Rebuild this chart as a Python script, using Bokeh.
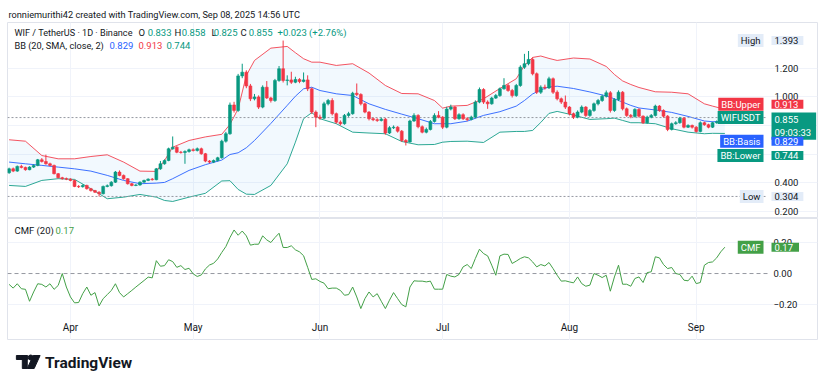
import pandas as pd
from bokeh.plotting import figure
from bokeh.layouts import column
from bokeh.models import (Range1d, FixedTicker, MonthsTicker, DatetimeTickFormatter,
                          NumeralTickFormatter, Label, Grid, ColumnDataSource, Title)
from bokeh.embed import file_html
from bokeh.resources import INLINE

# ---------------- data ----------------
start_date = "2025-03-17"

open_ = [0.470,0.497,0.481,0.514,0.507,0.491,0.509,0.521,0.560,0.548,
 0.532,0.521,0.463,0.435,0.428,0.425,0.416,0.374,0.372,0.381,
 0.358,0.345,0.334,0.323,0.374,0.379,0.404,0.474,0.451,0.428,
 0.393,0.381,0.384,0.404,0.416,0.425,0.421,0.497,0.532,0.555,
 0.637,0.648,0.613,0.611,0.618,0.630,0.625,0.637,0.602,0.551,
 0.544,0.555,0.574,0.690,0.742,0.943,0.905,1.146,1.172,1.076,
 0.986,0.999,0.928,1.067,0.992,0.974,1.114,1.196,1.114,1.118,
 1.102,1.121,1.107,1.118,1.056,0.893,0.858,0.851,0.951,0.974,
 0.882,0.823,0.812,0.870,0.882,1.025,1.016,0.951,0.893,0.847,
 0.840,0.835,0.844,0.747,0.784,0.788,0.760,0.695,0.685,0.831,
 0.870,0.791,0.753,0.772,0.828,0.870,0.858,0.788,0.914,0.928,
 0.847,0.875,0.847,0.842,0.858,0.963,1.051,0.963,0.951,0.991,
 1.009,1.056,1.079,1.044,1.009,1.079,1.207,1.231,1.261,1.161,
 1.032,1.067,1.062,1.126,1.032,0.986,0.963,0.928,0.882,0.858,
 0.893,0.928,0.870,0.905,0.951,0.974,1.004,1.028,0.905,0.981,
 1.032,0.916,0.870,0.863,0.912,0.865,0.819,0.858,0.870,0.935,
 0.905,0.865,0.772,0.812,0.819,0.851,0.788,0.800,0.788,0.758,
 0.819,0.805,0.788,0.819,0.826,0.833]

close_ = [0.497,0.481,0.514,0.507,0.491,0.509,0.521,0.560,0.548,0.532,
 0.521,0.463,0.435,0.428,0.425,0.416,0.374,0.372,0.381,0.358,
 0.345,0.334,0.323,0.374,0.379,0.404,0.474,0.451,0.428,0.393,
 0.381,0.384,0.404,0.416,0.425,0.421,0.497,0.532,0.555,0.637,
 0.648,0.613,0.611,0.618,0.630,0.625,0.637,0.602,0.551,0.544,
 0.555,0.574,0.690,0.742,0.943,0.905,1.146,1.172,1.076,0.986,
 0.999,0.928,1.067,0.992,0.974,1.114,1.196,1.114,1.118,1.102,
 1.121,1.107,1.118,1.056,0.893,0.858,0.851,0.951,0.974,0.882,
 0.823,0.812,0.870,0.882,1.025,1.016,0.951,0.893,0.847,0.840,
 0.835,0.844,0.747,0.784,0.788,0.760,0.695,0.685,0.831,0.870,
 0.791,0.753,0.772,0.828,0.870,0.858,0.788,0.914,0.928,0.847,
 0.875,0.847,0.842,0.858,0.963,1.051,0.963,0.951,0.991,1.009,
 1.056,1.079,1.044,1.009,1.079,1.207,1.231,1.261,1.161,1.032,
 1.067,1.062,1.126,1.032,0.986,0.963,0.928,0.882,0.858,0.893,
 0.928,0.870,0.905,0.951,0.974,1.004,1.028,0.905,0.981,1.032,
 0.916,0.870,0.863,0.912,0.865,0.819,0.858,0.870,0.935,0.905,
 0.865,0.772,0.812,0.819,0.851,0.788,0.800,0.788,0.758,0.819,
 0.805,0.788,0.819,0.826,0.833,0.855]

high_ = [0.505,0.506,0.520,0.525,0.512,0.515,0.528,0.566,0.572,0.596,
 0.540,0.526,0.468,0.441,0.436,0.431,0.421,0.383,0.388,0.386,
 0.364,0.350,0.340,0.380,0.388,0.410,0.482,0.486,0.457,0.432,
 0.398,0.390,0.409,0.421,0.430,0.433,0.503,0.552,0.563,0.645,
 0.723,0.655,0.622,0.626,0.638,0.640,0.646,0.645,0.608,0.558,
 0.562,0.581,0.700,0.755,0.960,0.965,1.160,1.231,1.185,1.090,
 1.020,1.010,1.080,1.110,1.000,1.125,1.215,1.393,1.150,1.175,
 1.140,1.130,1.170,1.150,1.065,0.905,0.875,0.965,0.985,0.990,
 0.890,0.835,0.880,0.895,1.035,1.093,1.025,0.960,0.900,0.856,
 0.850,0.855,0.852,0.795,0.800,0.795,0.768,0.705,0.840,0.885,
 0.878,0.800,0.785,0.838,0.885,0.900,0.865,0.930,0.945,0.935,
 0.885,0.885,0.858,0.868,0.975,1.065,1.060,0.975,1.000,1.020,
 1.065,1.130,1.090,1.055,1.090,1.220,1.300,1.320,1.275,1.170,
 1.080,1.085,1.140,1.135,1.045,0.995,1.009,0.935,0.890,0.905,
 0.940,0.935,0.915,0.960,0.985,1.015,1.044,1.040,0.990,1.045,
 1.040,0.925,0.880,0.920,0.920,0.870,0.868,0.880,0.945,0.942,
 0.912,0.872,0.820,0.830,0.860,0.858,0.808,0.806,0.795,0.828,
 0.826,0.812,0.826,0.835,0.842,0.858]

low_ = [0.462,0.474,0.476,0.500,0.484,0.487,0.503,0.515,0.541,0.526,
 0.514,0.458,0.430,0.421,0.418,0.410,0.369,0.363,0.366,0.352,
 0.338,0.328,0.304,0.318,0.368,0.373,0.398,0.445,0.421,0.387,
 0.375,0.376,0.379,0.400,0.411,0.415,0.417,0.490,0.526,0.550,
 0.630,0.606,0.603,0.532,0.610,0.618,0.618,0.596,0.543,0.535,
 0.537,0.548,0.568,0.680,0.735,0.890,0.895,1.130,1.060,0.970,
 0.975,0.915,0.920,0.985,0.960,0.965,1.105,1.100,1.080,1.090,
 1.095,1.095,1.100,1.040,0.880,0.788,0.840,0.845,0.940,0.870,
 0.812,0.800,0.805,0.860,0.875,1.005,0.940,0.885,0.835,0.830,
 0.825,0.828,0.735,0.740,0.775,0.750,0.685,0.660,0.680,0.825,
 0.780,0.745,0.745,0.765,0.820,0.850,0.775,0.780,0.905,0.838,
 0.840,0.838,0.830,0.835,0.850,0.955,0.950,0.916,0.945,0.985,
 1.000,1.050,1.035,0.995,1.000,1.070,1.195,1.220,1.150,1.020,
 1.020,1.050,1.055,1.020,0.975,0.950,0.915,0.870,0.845,0.850,
 0.885,0.860,0.860,0.895,0.940,0.965,0.995,0.890,0.895,0.970,
 0.905,0.860,0.850,0.855,0.855,0.810,0.812,0.850,0.862,0.895,
 0.855,0.760,0.765,0.805,0.812,0.780,0.782,0.778,0.750,0.752,
 0.798,0.780,0.782,0.812,0.820,0.825]

cmf = [-0.070,-0.094,-0.066,-0.098,-0.102,-0.179,-0.119,-0.066,-0.070,-0.087,
 -0.066,-0.102,-0.077,0.000,-0.087,-0.151,-0.189,-0.187,-0.130,-0.087,
 -0.140,-0.123,-0.209,-0.162,-0.136,-0.109,-0.066,-0.123,-0.151,-0.130,
 -0.109,-0.087,-0.066,-0.045,-0.023,-0.028,0.083,0.047,0.051,0.089,
 0.077,0.040,0.051,0.026,0.034,-0.002,-0.019,-0.009,0.030,0.055,
 0.066,0.094,0.136,0.174,0.232,0.281,0.247,0.274,0.243,0.183,
 0.189,0.189,0.243,0.217,0.200,0.232,0.260,0.168,0.168,0.179,
 0.153,0.140,0.115,0.040,-0.038,-0.034,-0.051,-0.062,-0.098,-0.094,
 -0.094,-0.109,-0.140,-0.136,-0.087,-0.151,-0.226,-0.162,-0.119,-0.151,
 -0.130,-0.179,-0.226,-0.172,-0.123,-0.162,-0.200,-0.215,-0.087,-0.047,
 -0.049,-0.049,-0.054,-0.049,-0.101,-0.101,-0.101,-0.006,-0.017,-0.022,
 -0.006,0.043,0.058,0.032,0.097,0.157,0.129,0.114,0.054,-0.011,
 0.114,0.125,0.123,0.065,0.080,0.097,0.108,0.101,0.075,0.043,
 0.058,0.049,0.071,0.032,-0.011,-0.049,-0.047,-0.054,-0.060,-0.022,
 -0.065,-0.082,-0.075,0.000,-0.011,-0.026,-0.011,-0.114,-0.022,0.054,
 -0.069,-0.069,-0.082,-0.032,-0.022,-0.058,0.006,0.011,0.108,0.101,
 0.058,0.032,0.039,0.000,-0.006,-0.043,-0.047,-0.017,-0.065,-0.058,
 0.054,0.071,0.075,0.101,0.140,0.170]

bb_day = [0,4,8,12,16,20,24,28,32,36,38,40,44,48,52,54,56,58,60,64,
 68,70,72,74,76,80,84,88,92,96,100,104,106,108,112,116,120,124,126,128,
 130,132,134,138,142,146,148,150,152,154,158,162,166,170,172,175]
bb_upper = [0.700,0.690,0.590,0.567,0.567,0.583,0.595,0.544,0.481,0.479,
 0.555,0.648,0.695,0.720,0.738,0.807,0.916,1.149,1.254,1.340,
 1.352,1.308,1.266,1.242,1.242,1.219,1.231,1.166,1.079,1.023,
 1.021,0.974,0.921,0.935,0.940,0.986,1.058,1.126,1.219,1.275,
 1.285,1.268,1.254,1.271,1.264,1.212,1.156,1.111,1.086,1.065,
 1.035,1.032,1.021,0.951,0.935,0.913]
bb_basis = [0.544,0.532,0.521,0.509,0.497,0.481,0.451,0.416,0.393,0.397,
 0.402,0.428,0.486,0.526,0.558,0.597,0.609,0.644,0.695,0.814,
 0.940,1.004,1.056,1.067,1.044,1.021,1.009,0.951,0.912,0.879,
 0.847,0.812,0.812,0.812,0.830,0.870,0.896,0.935,0.974,1.020,
 1.048,1.069,1.074,1.058,1.034,1.006,0.986,0.963,0.940,0.922,
 0.908,0.891,0.863,0.831,0.826,0.829]
bb_lower = [0.381,0.374,0.416,0.428,0.423,0.358,0.288,0.299,0.318,0.299,
 0.276,0.269,0.299,0.326,0.412,0.414,0.353,0.320,0.318,0.381,
 0.532,0.683,0.847,0.889,0.847,0.812,0.753,0.747,0.742,0.688,
 0.665,0.667,0.683,0.688,0.690,0.681,0.753,0.758,0.758,0.765,
 0.821,0.884,0.898,0.872,0.842,0.847,0.851,0.835,0.819,0.819,
 0.812,0.777,0.753,0.742,0.745,0.744]

price_ticks = [0.2, 0.4, 0.6, 0.8, 1.0, 1.2]
cmf_ticks = [-0.2, 0.0, 0.2]
last_price = 0.855
range_high = 1.393
range_low = 0.304
last_cmf = 0.17

# ---------------- styling / layout constants ----------------
FONT = "Roboto"
TXT = "#131722"
UP = "#089981"
DN = "#f23645"
BLUE = "#2962ff"
CMFC = "#43a047"
GRID = "#f0f3fa"
BORDER = "#e0e3eb"
FS = "9.5px"
LFS = "9.5px"
W = 820
FRAME_L, FRAME_R = 7, 817          # page x of the frames
A_TOP, A_BOT = 22, 218             # price pane frame (page y)
B_TOP, B_BOT = 218, 340            # indicator pane frame (page y)
SCALE_X = 767                      # where the price scale column starts

dates = pd.date_range(start_date, periods=len(close_), freq="D")
bb_dates = dates[bb_day]
DAY = pd.Timedelta(days=1)
DAY_MS = 86400000
x_start = dates[0] - 0.39 * DAY
x_end = dates[0] + 197.65 * DAY
x_range = Range1d(start=x_start, end=x_end)
yA_lo, yA_hi = 0.150, 1.519
yB_lo, yB_hi = -0.432, 0.355


def xd(px):
    """page x -> datetime (ms) on the shared time scale"""
    t = x_start + (px - FRAME_L) / (FRAME_R - FRAME_L) * (x_end - x_start)
    return t.value / 1e6


def yA(py):
    return yA_hi - (py - A_TOP) / (A_BOT - A_TOP) * (yA_hi - yA_lo)


def yB(py):
    return yB_hi - (py - B_TOP) / (B_BOT - B_TOP) * (yB_hi - yB_lo)


colors = [UP if c >= o else DN for o, c in zip(open_, close_)]
src = ColumnDataSource(dict(
    date=dates, open=open_, close=close_, high=high_, low=low_,
    top=[max(o, c) for o, c in zip(open_, close_)],
    bottom=[min(o, c) for o, c in zip(open_, close_)],
    color=colors))


def lab(fig, x, y, text, color=TXT, size=FS, align="left", baseline="middle",
        font=FONT, style="normal", **kw):
    l = Label(x=x, y=y, x_units="data", y_units="data", text=text,
              text_color=color, text_font_size=size, text_align=align,
              text_baseline=baseline, text_font=font, text_font_style=style, **kw)
    fig.add_layout(l)
    return l


def scale_pair(fig, yv, left_text, right_text, lfill, rfill, lcolor, rcolor,
               y_off=0, rpad_right=5):
    lab(fig, xd(SCALE_X - 4), yv, left_text, color=lcolor, align="right",
        y_offset=y_off, background_fill_color=lfill,
        padding=dict(left=3, right=3, top=1, bottom=1))
    lab(fig, xd(SCALE_X + 4), yv, right_text, color=rcolor, align="left",
        y_offset=y_off, background_fill_color=rfill,
        padding=dict(left=3, right=rpad_right, top=1, bottom=1))


def style_axis(ax, standoff):
    ax.axis_line_color = None
    ax.major_tick_line_color = None
    ax.minor_tick_line_color = None
    ax.major_tick_out = 0
    ax.major_tick_in = 0
    ax.minor_tick_out = 0
    ax.major_label_standoff = standoff
    ax.major_label_text_font = FONT
    ax.major_label_text_font_size = FS
    ax.major_label_text_color = TXT


# ---------------- price pane ----------------
pA = figure(width=W, height=A_BOT, x_range=x_range, y_range=Range1d(yA_lo, yA_hi),
            x_axis_type="datetime", x_axis_location=None, y_axis_location="right",
            toolbar_location=None, output_backend="svg",
            min_border_left=FRAME_L, min_border_right=W - FRAME_R,
            min_border_top=A_TOP, min_border_bottom=0,
            outline_line_color=BORDER, background_fill_color="white",
            border_fill_color="white")
pA.title = Title(text="ronniemurithi42 created with TradingView.com, Sep 08, 2025 14:56 UTC",
                 align="left", offset=1, standoff=5, text_font=FONT,
                 text_font_size="9.2px", text_font_style="normal", text_color=TXT)

ya = pA.yaxis[0]
ya.ticker = FixedTicker(ticks=price_ticks)
ya.formatter = NumeralTickFormatter(format="0.000")
style_axis(ya, -(FRAME_R - SCALE_X - 7))
pA.ygrid.grid_line_color = GRID
pA.add_layout(Grid(dimension=0, ticker=MonthsTicker(months=list(range(1, 13))),
                   grid_line_color=GRID))

pA.varea(x=bb_dates, y1=bb_lower, y2=bb_upper, fill_color="#2196f3", fill_alpha=0.06)
pA.line(bb_dates, bb_upper, line_color=DN, line_width=1, line_alpha=0.85)
pA.line(bb_dates, bb_basis, line_color=BLUE, line_width=1, line_alpha=0.9)
pA.line(bb_dates, bb_lower, line_color=UP, line_width=1, line_alpha=0.85)

for lvl in (last_price, range_low):
    pA.line([x_start.value / 1e6, xd(SCALE_X)], [lvl, lvl], line_color="#9598a1",
            line_dash="2 2", line_width=1)

pA.segment(x0="date", y0="high", x1="date", y1="low", line_color="color",
           line_width=1, source=src)
pA.vbar(x="date", width=0.7 * DAY_MS, top="top", bottom="bottom",
        fill_color="color", line_color="color", line_width=0.6, source=src)

# legend lines
lab(pA, xd(14), yA(32), "WIF / TetherUS · 1D · Binance", size="9.1px")
for letter, lx, num, nx in [("O", 138, "0.833", 171), ("H", 174, "0.858", 205),
                            ("L", 211, "0.825", 237), ("C", 240, "0.855", 272)]:
    lab(pA, xd(lx), yA(32), letter, size=LFS)
    lab(pA, xd(nx), yA(32), num, color=UP, align="right", size=LFS)
lab(pA, xd(277), yA(32), "+0.023 (+2.76%)", color=UP, size=LFS)
lab(pA, xd(14), yA(45), "BB (20, SMA, close, 2)", size="9.2px")
for txt, lx, col in [("0.829", 109, BLUE), ("0.913", 138, DN), ("0.744", 166, UP)]:
    lab(pA, xd(lx), yA(45), txt, color=col, size=LFS)

# price-scale labels
LIGHT = "#e3ecf8"
scale_pair(pA, range_high, "High", "1.393", LIGHT, LIGHT, TXT, TXT)
scale_pair(pA, range_low, "Low", "0.304", LIGHT, LIGHT, TXT, TXT)
scale_pair(pA, bb_upper[-1], "BB:Upper", "0.913", DN, DN, "white", "white", y_off=5)
lab(pA, xd(SCALE_X - 4), last_price, "WIFUSDT", color="white", align="right",
    background_fill_color=UP, padding=dict(left=3, right=3, top=1, bottom=1))
lab(pA, xd(SCALE_X + 4), last_price, "0.855\n09:03:33", color="white", align="left",
    y_offset=5, baseline="top", background_fill_color=UP,
    padding=dict(left=3, right=5, top=1, bottom=2))
scale_pair(pA, bb_basis[-1], "BB:Basis", "0.829", BLUE, BLUE, "white", "white", y_off=-20)
scale_pair(pA, bb_lower[-1], "BB:Lower", "0.744", UP, UP, "white", "white", y_off=-22)

# ---------------- CMF pane ----------------
pB = figure(width=W, height=B_BOT - B_TOP, x_range=x_range, y_range=Range1d(yB_lo, yB_hi),
            x_axis_type="datetime", y_axis_location="right",
            toolbar_location=None, output_backend="svg",
            min_border_left=FRAME_L, min_border_right=W - FRAME_R,
            min_border_top=0, min_border_bottom=0,
            outline_line_color=BORDER, background_fill_color="white",
            border_fill_color="white")

pB.line([x_start.value / 1e6, xd(SCALE_X)], [0.0, 0.0], line_color="#9598a1",
        line_dash="4 3", line_width=1)
pB.line(dates, cmf, line_color=CMFC, line_width=1)

xa = pB.xaxis[0]
xa.ticker = MonthsTicker(months=list(range(1, 13)))
xa.formatter = DatetimeTickFormatter(months="%b", days="%b", years="%Y")
style_axis(xa, -19)
xa.major_label_text_font_size = "10px"

yb = pB.yaxis[0]
yb.ticker = FixedTicker(ticks=cmf_ticks)
yb.major_label_overrides = {-0.2: "\u22120.20", 0: "0.00", 0.2: "0.20"}
style_axis(yb, -(FRAME_R - SCALE_X - 6))
pB.ygrid.ticker = FixedTicker(ticks=[-0.2, 0.2])
pB.ygrid.grid_line_color = GRID
pB.xgrid.grid_line_color = GRID

lab(pB, xd(14), yB(230), "CMF (20)", size=LFS)
lab(pB, xd(55), yB(230), "0.17", color=CMFC, size=LFS)
scale_pair(pB, last_cmf, "CMF", "0.17", CMFC, CMFC, "white", "white", rpad_right=6)

# ---------------- logo strip ----------------
pC = figure(width=W, height=37, x_range=Range1d(0, W), y_range=Range1d(377, 340),
            x_axis_location=None, y_axis_location=None, toolbar_location=None,
            output_backend="svg", min_border=0, outline_line_color=None,
            background_fill_color="white", border_fill_color="white")
pC.xgrid.visible = False
pC.ygrid.visible = False
# TradingView mark (drawn shapes)
pC.quad(left=[9], right=[20], top=[355], bottom=[359], color=TXT)
pC.quad(left=[15], right=[20], top=[355], bottom=[368], color=TXT)
pC.scatter([23.5], [357], size=5, color=TXT)
pC.patch([26, 33, 27, 20], [355, 355, 368, 368], color=TXT)
lab(pC, 38, 362, "TradingView", font="Roboto", size="15.5px", style="bold")

layout = column(pA, pB, pC)
open("out.html", "w").write(file_html(layout, INLINE))
